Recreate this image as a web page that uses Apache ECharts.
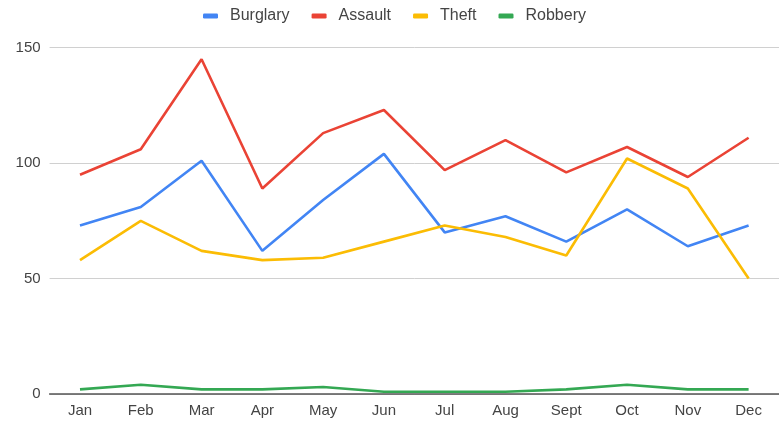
<!DOCTYPE html>
<html>
<head>
<meta charset="utf-8">
<script src="https://cdn.jsdelivr.net/npm/echarts@6/dist/echarts.min.js"></script>
<style>
  html, body { margin: 0; padding: 0; background: #fff; }
  #chart { width: 779px; height: 425px; }
</style>
</head>
<body>
<div id="chart"></div>
<script>
// Monthly incident counts by category
const months = ['Jan', 'Feb', 'Mar', 'Apr', 'May', 'Jun', 'Jul', 'Aug', 'Sept', 'Oct', 'Nov', 'Dec'];
const burglary = [73, 81, 101, 62, 84, 104, 70, 77, 66, 80, 64, 73];
const assault  = [95, 106, 145, 89, 113, 123, 97, 110, 96, 107, 94, 111];
const theft    = [58, 75, 62, 58, 59, 66, 73, 68, 60, 102, 89, 50];
const robbery  = [2, 4, 2, 2, 3, 1, 1, 1, 2, 4, 2, 2];
const yTicks   = [0, 50, 100, 150];

const font = '"Liberation Sans", Arial, sans-serif';
const colors = ['#4285F4', '#EA4335', '#FBBC04', '#34A853'];

function line(name, data, color) {
  return {
    name: name,
    type: 'line',
    data: data,
    showSymbol: false,
    symbol: 'none',
    lineStyle: { color: color, width: 2.6 },
    itemStyle: { color: color },
    z: 3
  };
}

const chart = echarts.init(document.getElementById('chart'), null, { renderer: 'canvas' });
chart.setOption({
  animation: false,
  color: colors,
  legend: {
    top: 3,
    left: 198,
    icon: 'roundRect',
    itemWidth: 15,
    itemHeight: 5,
    itemGap: 22,
    textStyle: { fontFamily: font, fontSize: 16, color: '#444', padding: [0, 0, 0, 7] },
    data: ['Burglary', 'Assault', 'Theft', 'Robbery']
  },
  grid: { left: 49.6, right: -0.4, top: 47.7, bottom: 31 },
  xAxis: {
    type: 'category',
    data: months,
    boundaryGap: true,
    axisLine: { show: true, lineStyle: { color: '#555', width: 1.5 } },
    axisTick: { show: false },
    axisLabel: { fontFamily: font, fontSize: 15, color: '#444', margin: 9 }
  },
  yAxis: {
    type: 'value',
    min: yTicks[0],
    max: yTicks[yTicks.length - 1],
    interval: 50,
    axisLine: { show: false },
    axisTick: { show: false },
    axisLabel: { fontFamily: font, fontSize: 15, color: '#444', margin: 9 },
    splitLine: { lineStyle: { color: '#d0d0d0', width: 1 } }
  },
  series: [
    line('Burglary', burglary, colors[0]),
    line('Assault', assault, colors[1]),
    line('Theft', theft, colors[2]),
    line('Robbery', robbery, colors[3])
  ]
});
</script>
</body>
</html>
